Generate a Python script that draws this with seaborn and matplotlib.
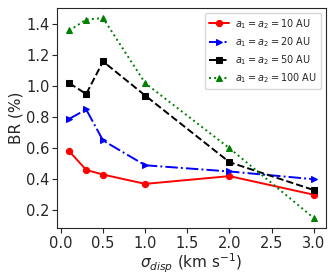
import matplotlib
matplotlib.use("Agg")
import matplotlib.pyplot as plt
import pandas as pd
import seaborn as sns

sigma = [0.1, 0.3, 0.5, 1.0, 2.0, 3.0]
br_10 = [0.58, 0.46, 0.43, 0.37, 0.42, 0.30]
br_20 = [0.79, 0.85, 0.65, 0.49, 0.45, 0.40]
br_50 = [1.02, 0.95, 1.16, 0.94, 0.51, 0.33]
br_100 = [1.36, 1.43, 1.44, 1.02, 0.60, 0.15]

labels = [r'$a_1 = a_2 = 10$ AU', r'$a_1 = a_2 = 20$ AU',
          r'$a_1 = a_2 = 50$ AU', r'$a_1 = a_2 = 100$ AU']
series = [br_10, br_20, br_50, br_100]
colors = ['red', 'blue', 'black', 'green']
markers = ['o', '>', 's', '^']
linestyles = ['-', '-.', '--', ':']

sns.set_style('ticks')
plt.rcParams['font.family'] = ['DejaVu Sans']

fig, ax = plt.subplots(figsize=(3.34, 2.78), dpi=100)
for ys, lab, c, m, ls in zip(series, labels, colors, markers, linestyles):
    df = pd.DataFrame({'sigma': sigma, 'br': ys})
    sns.lineplot(data=df, x='sigma', y='br', ax=ax, color=c, marker=m,
                 linestyle=ls, label=lab, linewidth=1.4, markersize=4.5,
                 markeredgecolor=c)

ax.set_xticks([0.0, 0.5, 1.0, 1.5, 2.0, 2.5, 3.0])
ax.set_yticks([0.2, 0.4, 0.6, 0.8, 1.0, 1.2, 1.4])
ax.tick_params(labelsize=10.5, length=3.5, pad=2)
ax.set_xlabel(r'$\sigma_{disp}$ (km s$^{-1}$)', fontsize=11, labelpad=1)
ax.set_ylabel('BR (%)', fontsize=11, labelpad=2)
ax.legend(loc='upper right', fontsize=7, handlelength=2.0, handletextpad=0.7,
          borderpad=0.4, labelspacing=0.45, framealpha=0.8)

fig.subplots_adjust(left=0.171, right=0.976, top=0.971, bottom=0.18)
fig.savefig('out.png', dpi=100)
